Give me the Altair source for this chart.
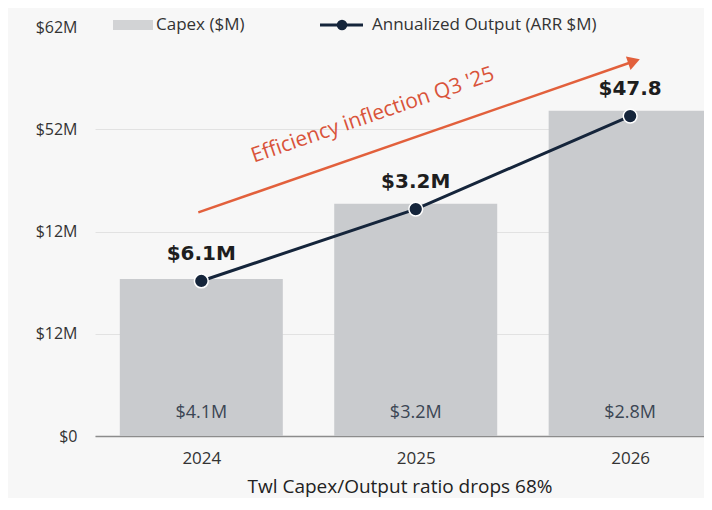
import altair as alt
import pandas as pd

# ---- data ----
years = ["2024", "2025", "2026"]
year_pos = [0, 1, 2]
capex_height = [23.8, 35.2, 49.3]          # bar heights on the chart's axis scale
capex_labels = ["$4.1M", "$3.2M", "$2.8M"]
output_values = [23.5, 34.4, 48.5]          # line values on the chart's axis scale
output_labels = ["$6.1M", "$3.2M", "$47.8"]

y_tick_values = [0, 15.5, 31, 46.5, 62]
y_tick_labels = ["$0", "$12M", "$12M", "$52M", "$62M"]

arrow_x = [-0.014, 2.018]
arrow_y = [33.9, 56.8]
annot_text = "Efficiency inflection Q3 '25"
annot_x = [0.80]
annot_y = [48.6]

x_title = "Twl Capex/Output ratio drops 68%"
legend_items = ["Capex ($M)", "Annualized Output (ARR $M)"]

# ---- styling ----
BG = "#f7f7f7"
BAR = "#c9cbce"
NAVY = "#15253b"
ORANGE = "#e2603c"
FONT = "Open Sans"

W, H = 609, 409

df = pd.DataFrame({
    "pos": year_pos,
    "year": years,
    "capex": capex_height,
    "capex_label": capex_labels,
    "output": output_values,
    "output_label": output_labels,
})
arrow_df = pd.DataFrame({"x": arrow_x, "y": arrow_y})
arrow_end = arrow_df.tail(1)
annot_df = pd.DataFrame({"x": annot_x, "y": annot_y, "t": [annot_text]})
dummy = pd.DataFrame({"a": [0]})

year_expr = " : ".join(
    f"datum.value == {p} ? '{y}'" for p, y in zip(year_pos, years)
) + " : ''"
ytick_expr = " : ".join(
    f"datum.value == {v} ? '{l}'" for v, l in zip(y_tick_values, y_tick_labels)
) + " : ''"

x_scale = alt.Scale(domain=[-0.4725, 2.3211], nice=False, zero=False)
y_scale = alt.Scale(domain=[0, 62], nice=False)

x_enc = alt.X(
    "pos:Q",
    scale=x_scale,
    axis=alt.Axis(
        values=year_pos,
        labelExpr=year_expr,
        grid=False,
        ticks=False,
        tickSize=0,
        domain=True,
        domainColor="#8c8c8c",
        domainWidth=1.5,
        labelFontSize=17,
        labelColor="#333333",
        labelFont=FONT,
        labelPadding=14,
        title=x_title,
        titleFontSize=19,
        titleFontWeight="normal",
        titleColor="#222222",
        titleFont=FONT,
        titlePadding=11,
    ),
)
y_axis = alt.Axis(
    values=y_tick_values,
    labelExpr=ytick_expr,
    grid=True,
    gridColor={"condition": {"test": "datum.value == 62", "value": "transparent"}, "value": "#e2e2e2"},
    gridWidth=1,
    ticks=False,
    tickSize=0,
    domain=False,
    labelFontSize=16,
    labelColor="#333333",
    labelFont=FONT,
    labelPadding=18,
    title=None,
)

base = alt.Chart(df)

bars = base.mark_bar(size=163, color=BAR).encode(
    x=x_enc,
    y=alt.Y("capex:Q", scale=y_scale, axis=y_axis),
)
bar_text = base.mark_text(
    dy=-23, fontSize=18, color="#3b4654", font=FONT, baseline="middle"
).encode(
    x=alt.X("pos:Q", scale=x_scale),
    y=alt.datum(0),
    text="capex_label:N",
)
line = base.mark_line(color=NAVY, strokeWidth=3).encode(
    x=alt.X("pos:Q", scale=x_scale),
    y=alt.Y("output:Q", scale=y_scale),
)
points = base.mark_circle(size=190, color=NAVY, opacity=1, stroke="white", strokeWidth=1.5).encode(
    x=alt.X("pos:Q", scale=x_scale),
    y=alt.Y("output:Q", scale=y_scale),
)
point_text = base.mark_text(
    dy=-27, fontSize=20, fontWeight="bold", color="#1e1e1e", font="DejaVu Sans", baseline="middle"
).encode(
    x=alt.X("pos:Q", scale=x_scale),
    y=alt.Y("output:Q", scale=y_scale),
    text="output_label:N",
)

arrow = alt.Chart(arrow_df).mark_line(color=ORANGE, strokeWidth=2.5).encode(
    x=alt.X("x:Q", scale=x_scale),
    y=alt.Y("y:Q", scale=y_scale),
)
arrow_head = alt.Chart(arrow_end).mark_point(
    shape="triangle-right", filled=True, color=ORANGE, opacity=1, size=200, angle=341
).encode(
    x=alt.X("x:Q", scale=x_scale),
    y=alt.Y("y:Q", scale=y_scale),
)
annot = alt.Chart(annot_df).mark_text(
    angle=341, fontSize=21, color="#d9533a", font=FONT, baseline="middle", align="center"
).encode(
    x=alt.X("x:Q", scale=x_scale),
    y=alt.Y("y:Q", scale=y_scale),
    text="t:N",
)

# ---- manual legend (layout only) ----
leg_y = -2
leg_swatch = alt.Chart(dummy).mark_rect(color="#d2d3d5").encode(
    x=alt.value(18), x2=alt.value(58), y=alt.value(leg_y - 5), y2=alt.value(leg_y + 5)
)
leg_t1 = alt.Chart(dummy).mark_text(
    align="left", baseline="middle", fontSize=17, color="#333333", font=FONT
).encode(x=alt.value(61), y=alt.value(leg_y), text=alt.value(legend_items[0]))
leg_line = alt.Chart(dummy).mark_rule(color=NAVY, strokeWidth=3).encode(
    x=alt.value(225), x2=alt.value(268), y=alt.value(leg_y)
)
leg_dot = alt.Chart(dummy).mark_circle(color=NAVY, size=110, opacity=1).encode(
    x=alt.value(247), y=alt.value(leg_y)
)
leg_t2 = alt.Chart(dummy).mark_text(
    align="left", baseline="middle", fontSize=17, color="#333333", font=FONT
).encode(x=alt.value(277), y=alt.value(leg_y), text=alt.value(legend_items[1]))

chart = alt.layer(
    bars, bar_text, arrow, arrow_head, annot, line, points, point_text,
    leg_swatch, leg_t1, leg_line, leg_dot, leg_t2,
).properties(
    width=W,
    height=H,
    autosize=alt.AutoSizeParams(type="none"),
    padding={"left": 87, "top": 19, "right": 0, "bottom": 62},
    background=BG,
).configure_view(stroke=None)

chart.save("out.html", embed_options={"renderer": "svg", "actions": False})
